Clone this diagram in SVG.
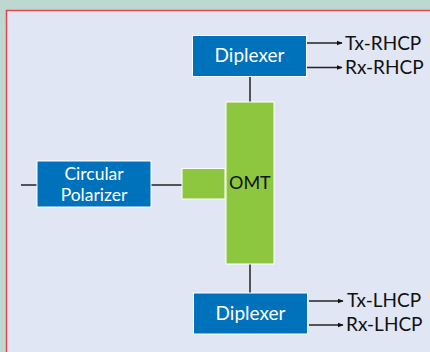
<svg xmlns="http://www.w3.org/2000/svg" width="430" height="352" viewBox="0 0 430 352">
<style>
.box{fill:#0071bb;stroke:#ffffff;stroke-width:1}
.grn{fill:#8dc63f;stroke:#ffffff;stroke-width:1}
.wt{fill:#ffffff;font-family:Lato,"Open Sans",sans-serif;font-size:19px;text-anchor:middle}
.bt{fill:#111111;font-family:Lato,"Open Sans",sans-serif;font-size:19px}
.ln{stroke:#222222;stroke-width:1.5;fill:none}
</style>
<defs>
<marker id="ah" viewBox="0 0 10 10" refX="9" refY="5" markerWidth="6" markerHeight="6" orient="auto" markerUnits="userSpaceOnUse">
<path d="M0,1 L10,5 L0,9 z" fill="#111111"/>
</marker>
</defs>
<rect x="0" y="0" width="430" height="352" fill="#bcd8d0"/>
<rect x="6.5" y="10.5" width="430" height="350" fill="#e0e6f4" stroke="#e0474c" stroke-width="1.5"/>
<g id="connectors">
<line class="ln" x1="21" y1="185" x2="37" y2="185"/>
<line class="ln" x1="151" y1="185" x2="182" y2="185"/>
<line class="ln" x1="250" y1="77" x2="250" y2="102"/>
<line class="ln" x1="250" y1="264" x2="250" y2="293"/>
<line class="ln" x1="307" y1="43" x2="342" y2="43" marker-end="url(#ah)"/>
<line class="ln" x1="307" y1="67.5" x2="342" y2="67.5" marker-end="url(#ah)"/>
<line class="ln" x1="309" y1="301" x2="343" y2="301" marker-end="url(#ah)"/>
<line class="ln" x1="309" y1="325" x2="343" y2="325" marker-end="url(#ah)"/>
</g>
<g id="diplexer-top">
<rect class="box" x="192.5" y="35.5" width="114" height="41"/>
<text class="wt" x="249.5" y="62">Diplexer</text>
</g>
<g id="omt">
<rect class="grn" x="226" y="102" width="48" height="162"/>
<text class="bt" x="229" y="189" style="font-size:18px">OMT</text>
</g>
<g id="omt-port">
<rect class="grn" x="182" y="168.5" width="43" height="30.5"/>
</g>
<g id="circular-polarizer">
<rect class="box" x="37" y="161" width="114" height="46"/>
<text class="wt" x="94" y="179.5" style="font-size:17.5px">Circular</text>
<text class="wt" x="94" y="200.5" style="font-size:17.5px">Polarizer</text>
</g>
<g id="diplexer-bottom">
<rect class="box" x="193.5" y="293" width="114" height="41"/>
<text class="wt" x="250.5" y="320">Diplexer</text>
</g>
<g id="labels">
<text class="bt" x="345" y="50">Tx-RHCP</text>
<text class="bt" x="345" y="74">Rx-RHCP</text>
<text class="bt" x="347" y="307">Tx-LHCP</text>
<text class="bt" x="346" y="331">Rx-LHCP</text>
</g>
</svg>
